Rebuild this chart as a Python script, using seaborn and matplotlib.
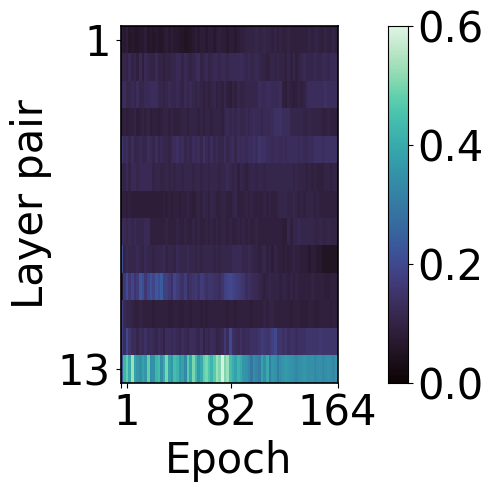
import numpy as np
import pandas as pd
import matplotlib
matplotlib.use("Agg")
import matplotlib.pyplot as plt
import seaborn as sns

# Values, one reading per two epochs
pair_1 = [.08,.07,.08,.06,.07,.06,.06,.07,.07,.08,.06,.07,.06,.07,.06,.06,.07,.08,.07,.08,.07,.07,.06,.06,.05,.05,.06,.07,.08,.07,.08,.08,.07,.08,.08,.07,.08,.09,.08,.08,.07,.08,.08,.07,.08,.09,.09,.10,.10,.10,.10,.11,.10,.10,.11,.10,.10,.09,.10,.09,.10,.09,.09,.10,.09,.09,.09,.09,.09,.09,.09,.10,.09,.10,.10,.09,.09,.10,.09,.09,.10,.09]
pair_2 = [.10,.11,.10,.12,.10,.11,.09,.12,.09,.12,.11,.10,.10,.12,.10,.10,.09,.10,.10,.11,.11,.12,.12,.10,.12,.11,.10,.11,.12,.13,.10,.11,.12,.10,.11,.12,.12,.11,.12,.12,.11,.12,.12,.12,.12,.13,.12,.11,.12,.11,.11,.12,.11,.10,.10,.09,.10,.11,.10,.11,.10,.10,.09,.11,.09,.11,.09,.10,.11,.12,.11,.11,.11,.12,.11,.11,.12,.12,.11,.12,.12,.12]
pair_3 = [.12,.13,.11,.11,.12,.11,.13,.11,.11,.12,.12,.13,.13,.13,.11,.11,.10,.11,.12,.11,.11,.12,.11,.10,.12,.11,.12,.11,.10,.11,.10,.09,.10,.09,.10,.11,.09,.10,.09,.11,.09,.08,.10,.09,.11,.10,.10,.11,.11,.11,.11,.11,.13,.12,.12,.13,.13,.12,.12,.12,.13,.09,.08,.10,.09,.08,.09,.10,.09,.10,.12,.13,.13,.13,.13,.13,.13,.14,.13,.13,.13,.13]
pair_4 = [.08,.09,.08,.09,.09,.10,.08,.09,.10,.09,.10,.08,.09,.09,.08,.09,.10,.10,.09,.10,.09,.09,.09,.10,.10,.09,.10,.10,.10,.09,.10,.09,.10,.10,.09,.10,.10,.10,.09,.11,.12,.11,.12,.11,.12,.11,.11,.12,.11,.12,.13,.12,.12,.11,.12,.12,.12,.13,.14,.14,.14,.13,.13,.13,.11,.11,.11,.11,.11,.10,.10,.11,.10,.10,.10,.10,.09,.09,.10,.09,.09,.09]
pair_5 = [.15,.12,.13,.11,.13,.11,.11,.12,.11,.11,.13,.12,.11,.13,.11,.12,.11,.11,.10,.12,.13,.14,.12,.13,.11,.12,.11,.13,.12,.13,.11,.14,.12,.11,.13,.11,.12,.11,.11,.13,.11,.12,.13,.11,.13,.12,.13,.12,.13,.13,.14,.13,.15,.14,.14,.13,.13,.12,.13,.13,.12,.13,.12,.13,.13,.13,.13,.12,.13,.12,.12,.13,.13,.14,.14,.14,.13,.14,.14,.14,.14,.14]
pair_6 = [.11,.10,.12,.10,.12,.12,.11,.12,.12,.12,.12,.12,.10,.11,.11,.10,.10,.11,.10,.11,.10,.11,.11,.10,.11,.11,.11,.10,.11,.11,.10,.11,.11,.10,.11,.11,.11,.10,.11,.11,.12,.11,.10,.11,.09,.11,.10,.09,.10,.11,.11,.10,.11,.11,.10,.11,.11,.11,.11,.11,.11,.11,.11,.11,.11,.10,.11,.10,.10,.10,.09,.10,.09,.10,.09,.09,.09,.10,.10,.09,.10,.10]
pair_7 = [.09,.09,.08,.09,.08,.08,.08,.08,.08,.08,.08,.08,.08,.08,.08,.08,.09,.08,.09,.08,.09,.09,.08,.09,.09,.10,.09,.08,.09,.10,.09,.11,.10,.09,.11,.10,.09,.09,.10,.10,.09,.09,.10,.11,.09,.09,.09,.10,.09,.10,.09,.09,.09,.09,.10,.09,.10,.09,.09,.10,.11,.11,.11,.10,.10,.11,.10,.09,.10,.09,.10,.10,.10,.09,.10,.09,.09,.09,.09,.09,.09,.09]
pair_8 = [.13,.12,.11,.12,.11,.12,.11,.11,.11,.12,.12,.09,.09,.09,.09,.09,.09,.10,.09,.09,.09,.10,.09,.09,.10,.09,.09,.10,.09,.10,.09,.09,.10,.09,.10,.09,.10,.09,.10,.10,.09,.10,.09,.09,.10,.09,.10,.09,.10,.09,.09,.10,.09,.09,.09,.09,.09,.09,.09,.09,.09,.08,.08,.11,.09,.11,.11,.12,.11,.11,.11,.11,.11,.10,.10,.11,.10,.10,.11,.10,.10,.10]
pair_9 = [.21,.10,.12,.11,.11,.11,.12,.11,.10,.12,.11,.11,.10,.11,.11,.11,.12,.10,.11,.11,.10,.12,.11,.11,.11,.12,.11,.11,.10,.11,.10,.11,.11,.11,.11,.10,.11,.10,.11,.11,.11,.11,.12,.12,.12,.12,.11,.11,.12,.11,.10,.10,.09,.10,.11,.09,.10,.08,.10,.09,.09,.08,.09,.08,.09,.10,.09,.09,.08,.08,.08,.07,.08,.08,.07,.07,.05,.05,.05,.05,.05,.05]
pair_10 = [.07,.16,.21,.16,.19,.15,.17,.23,.21,.16,.19,.22,.19,.23,.21,.24,.18,.18,.16,.14,.19,.17,.15,.14,.17,.13,.14,.15,.16,.14,.17,.16,.14,.15,.15,.14,.14,.13,.15,.18,.19,.20,.19,.18,.17,.16,.15,.13,.14,.13,.12,.12,.11,.10,.09,.10,.11,.10,.10,.10,.09,.10,.10,.09,.10,.09,.10,.09,.09,.09,.09,.09,.10,.09,.09,.09,.09,.08,.08,.09,.09,.09]
pair_11 = [.18,.12,.11,.11,.10,.09,.09,.10,.09,.09,.09,.09,.08,.09,.09,.09,.09,.09,.08,.08,.09,.09,.08,.08,.09,.09,.08,.09,.09,.09,.08,.09,.08,.09,.09,.09,.09,.09,.09,.09,.08,.09,.09,.08,.09,.09,.09,.09,.09,.08,.09,.09,.09,.09,.10,.09,.10,.10,.09,.09,.09,.09,.09,.09,.08,.09,.09,.09,.08,.08,.08,.09,.09,.08,.08,.09,.09,.09,.09,.08,.09,.09]
pair_12 = [.17,.13,.20,.15,.13,.13,.11,.13,.12,.14,.12,.13,.12,.11,.13,.12,.10,.13,.13,.12,.13,.12,.11,.13,.12,.11,.13,.13,.12,.11,.13,.10,.12,.11,.13,.12,.10,.11,.12,.16,.13,.20,.14,.13,.12,.14,.12,.13,.13,.14,.14,.14,.15,.17,.16,.15,.16,.18,.20,.15,.15,.14,.15,.13,.14,.14,.13,.14,.14,.14,.15,.15,.15,.15,.15,.16,.15,.15,.15,.15,.15,.15]
pair_13 = [.22,.42,.48,.40,.53,.38,.36,.34,.38,.36,.48,.34,.35,.42,.44,.34,.40,.50,.38,.36,.44,.42,.36,.38,.33,.47,.39,.50,.43,.36,.40,.48,.50,.46,.42,.47,.53,.50,.59,.50,.53,.44,.41,.38,.42,.40,.36,.35,.33,.29,.34,.32,.30,.38,.34,.40,.31,.36,.35,.30,.34,.36,.37,.36,.35,.34,.33,.34,.35,.36,.35,.34,.35,.33,.34,.35,.33,.34,.35,.34,.33,.35]

pairs = [pair_1, pair_2, pair_3, pair_4, pair_5, pair_6, pair_7,
         pair_8, pair_9, pair_10, pair_11, pair_12, pair_13]

epoch_ticks = [0.5, 5, 83.5, 164]
epoch_labels = ["", "1", "82", "164"]

# each reading covers two epochs
df = pd.DataFrame(np.repeat(np.array(pairs), 2, axis=1))

fig = plt.figure(figsize=(4.91, 4.91), dpi=100)
ax = fig.add_axes([120.5 / 491, 1 - 382.5 / 491, 217 / 491, 356.5 / 491])
cax = fig.add_axes([387.5 / 491, 1 - 382.5 / 491, 20 / 491, 356.5 / 491])

sns.heatmap(df, ax=ax, cbar_ax=cax, cmap="mako", vmin=0, vmax=0.6,
            xticklabels=False, yticklabels=False)

for s in ax.spines.values():
    s.set_visible(True)
    s.set_linewidth(1.2)
cax.tick_params(labelsize=30)
cax.set_yticks([0, 0.2, 0.4, 0.6])
cax.set_yticklabels(["0.0", "0.2", "0.4", "0.6"])
for s in cax.spines.values():
    s.set_visible(True)

ax.set_xticks(epoch_ticks)
ax.set_xticklabels(epoch_labels, rotation=0)
ax.set_yticks([0.5, 12.5])
ax.set_yticklabels(["1", "13"], rotation=0)
ax.tick_params(labelsize=30)
ax.set_xlabel("Epoch", fontsize=30)
ax.set_ylabel("Layer pair", fontsize=30)

plt.savefig("out.png", dpi=100)
